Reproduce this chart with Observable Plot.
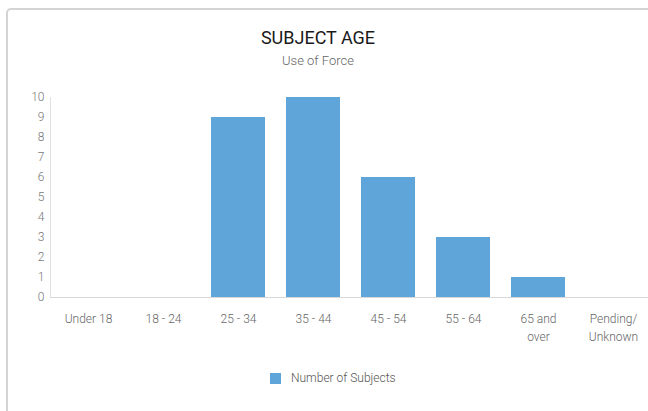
<!DOCTYPE html>
<html>
<head>
<meta charset="utf-8">
<script src="https://cdn.jsdelivr.net/npm/d3@7"></script>
<script src="https://cdn.jsdelivr.net/npm/@observablehq/plot@0.6"></script>
<style>
  html, body { margin: 0; padding: 0; background: #fff; width: 648px; height: 411px; overflow: hidden; font-family: Roboto, "Noto Sans", sans-serif; }
  #card { position: absolute; left: 6px; top: 8px; width: 720px; height: 480px; border: 2px solid #d4d4d4; border-radius: 5px; box-sizing: border-box; }
  #title { position: absolute; left: 0; width: 636px; top: 27px; text-align: center; font-size: 18px; font-weight: 400; color: #1a1a1a; }
  #subtitle { position: absolute; left: 0; width: 636px; top: 53px; text-align: center; font-size: 13px; font-weight: 300; color: #666; }
  #chart { position: absolute; left: 0; top: 0; }
  #legend { position: absolute; left: 270px; top: 371px; display: flex; align-items: center; font-size: 12px; font-weight: 300; color: #555; }
  #legend .sw { width: 11px; height: 11px; margin-right: 10px; }
</style>
</head>
<body>
<div id="card"></div>
<div id="title">SUBJECT AGE</div>
<div id="subtitle">Use of Force</div>
<div id="chart"></div>
<div id="legend"><div class="sw"></div><span>Number of Subjects</span></div>
<script>
const categories = ["Under 18", "18 - 24", "25 - 34", "35 - 44", "45 - 54", "55 - 64", "65 and\nover", "Pending/\nUnknown"];
const subjects = [0, 0, 9, 10, 6, 3, 1, 0];
const yTicks = [0, 1, 2, 3, 4, 5, 6, 7, 8, 9, 10];
const seriesName = "Number of Subjects";
const barColor = "#5fa5d9";

const data = categories.map((c, i) => ({category: c, value: subjects[i]}));

document.querySelector("#legend .sw").style.background = barColor;

const chart = Plot.plot({
  width: 648,
  height: 350,
  marginTop: 97,
  marginBottom: 53,
  marginLeft: 50,
  marginRight: 0,
  style: {background: "transparent", fontFamily: "Roboto, sans-serif", fontSize: "12px", color: "#777"},
  x: {domain: categories, range: [50, 650], paddingInner: 0.28, paddingOuter: 0.14, label: null},
  y: {domain: [0, 10], label: null},
  marks: [
    Plot.barY(data, {x: "category", y: "value", fill: barColor}),
    Plot.ruleY([0], {stroke: "#d8d8d8", strokeWidth: 1}),
    Plot.axisY({ticks: yTicks, tickSize: 0, tickPadding: 6, tickFormat: d => String(d), fill: "#777", fontWeight: 300, label: null}),
    Plot.axisX({tickSize: 0, tickPadding: 12, fill: "#666", fontWeight: 300, lineHeight: 1.55, label: null})
  ]
});
// left axis line
const svg = d3.select(chart);
svg.append("line").attr("x1", 50.5).attr("x2", 50.5).attr("y1", 97).attr("y2", 297).attr("stroke", "#e0e0e0");
document.getElementById("chart").appendChild(chart);
</script>
</body>
</html>
